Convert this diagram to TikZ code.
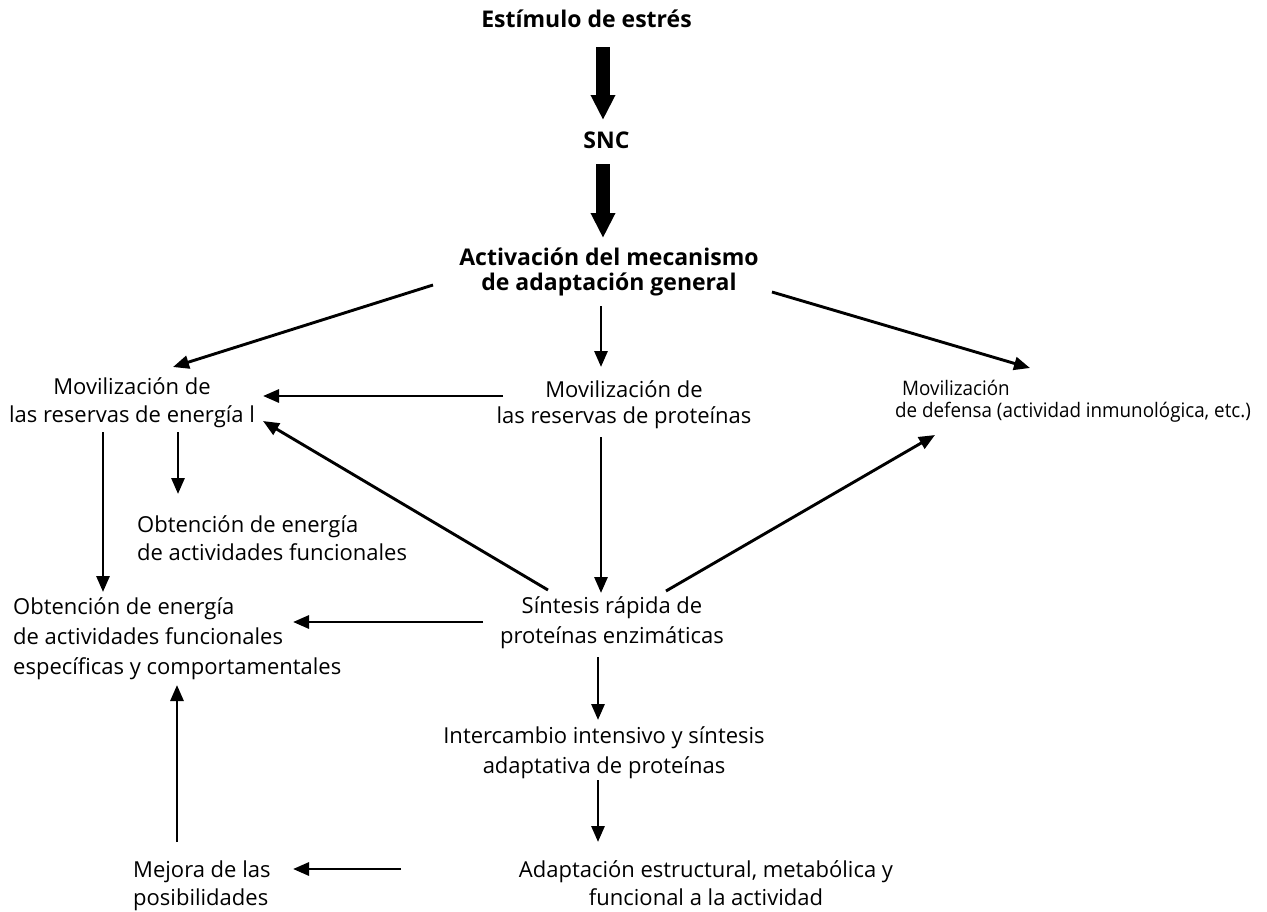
\documentclass[tikz,border=0pt]{standalone}
\usepackage{fontspec}
\setmainfont{Open Sans}
\usetikzlibrary{arrows.meta}
\tikzset{
  lbl/.style={font=\fontsize{22}{#1}\selectfont, inner sep=0pt, align=center, anchor=base},
  lbl/.default=28,
  lbll/.style={font=\fontsize{22}{#1}\selectfont, inner sep=0pt, align=left, anchor=base west},
  lbll/.default=28,
  deflbl/.style={font=\fontsize{20}{22}\selectfont\addfontfeature{FakeStretch=0.94}, inner sep=0pt, align=left, anchor=base west},
  bld/.style={font=\fontsize{23}{25}\selectfont\bfseries, inner sep=0pt, align=center, anchor=base},
  arr/.style={line width=2.9pt, -{Triangle[length=16pt,width=13pt]}},
  bigarr/.style={line width=14pt, -{Triangle[length=25pt,width=23pt]}}
}
\begin{document}
\begin{tikzpicture}[x=1pt,y=-1pt]
\useasboundingbox[fill=white] (0,0) rectangle (1267,911);
% nodes (anchor = baseline of last line)
\node[bld] (stim) at (586.5,27) {Estímulo de estrés};
\node[bld] (snc) at (606.5,148) {SNC};
\node[bld] (act) at (609,290) {Activación del mecanismo\\de adaptación general};
\node[lbl] (energy) at (132,422) {Movilización de\\las reservas de energía l};
\node[lbl=26] (prot) at (624,423) {Movilización de\\las reservas de proteínas};
\node[deflbl] (def) at (895,417) {\hspace*{7pt}Movilización\\de defensa (actividad inmunológica, etc.)};
\node[lbll] (obt1) at (137,560) {Obtención de energía\\de actividades funcionales};
\node[lbll=30] (obt2) at (13,674) {Obtención de energía\\de actividades funcionales\\específicas y comportamentales};
\node[lbl=30] (sint) at (612,643) {Síntesis rápida de\\proteínas enzimáticas};
\node[lbl=30] (inter) at (604,773) {Intercambio intensivo y síntesis\\adaptativa de proteínas};
\node[lbl] (adapt) at (706,905) {Adaptación estructural, metabólica y\\funcional a la actividad};
\node[lbll] (mej) at (133,905) {Mejora de las\\posibilidades};
% big arrows
\draw[bigarr] ([shift={(16.5,20)}]stim.base) -- ([shift={(-3.5,-28)}]snc.base);
\draw[bigarr] ([shift={(-3.5,16)}]snc.base) -- ([shift={(-6,-52)}]act.base);
% thin arrows
\draw[arr] ([shift={(-176,-5)}]act.base) -- ([shift={(41,-55)}]energy.base);
\draw[arr] ([shift={(-8,16)}]act.base) -- ([shift={(-23,-56)}]prot.base);
\draw[arr] ([shift={(163,2)}]act.base) -- ([shift={(135,-49)}]def.base west);
\draw[arr] ([shift={(-121,-27)}]prot.base) -- ([shift={(131,-26)}]energy.base);
\draw[arr] ([shift={(-64,-53)}]sint.base) -- ([shift={(131,-1)}]energy.base);
\draw[arr] ([shift={(54,-52)}]sint.base) -- ([shift={(40,18)}]def.base west);
\draw[arr] ([shift={(-23,14)}]prot.base) -- ([shift={(-11,-50)}]sint.base);
\draw[arr] ([shift={(-29,10)}]energy.base) -- ([shift={(90,-82)}]obt2.base west);
\draw[arr] ([shift={(46,10)}]energy.base) -- ([shift={(41,-66)}]obt1.base west);
\draw[arr] ([shift={(-129,-21)}]sint.base) -- ([shift={(280,-52)}]obt2.base west);
\draw[arr] ([shift={(-14,14)}]sint.base) -- ([shift={(-6,-53)}]inter.base);
\draw[arr] ([shift={(-6,7)}]inter.base) -- ([shift={(-108,-63)}]adapt.base);
\draw[arr] ([shift={(-305,-36)}]adapt.base) -- ([shift={(160,-36)}]mej.base west);
\draw[arr] ([shift={(44,-63)}]mej.base west) -- ([shift={(164,11)}]obt2.base west);
\end{tikzpicture}
\end{document}
